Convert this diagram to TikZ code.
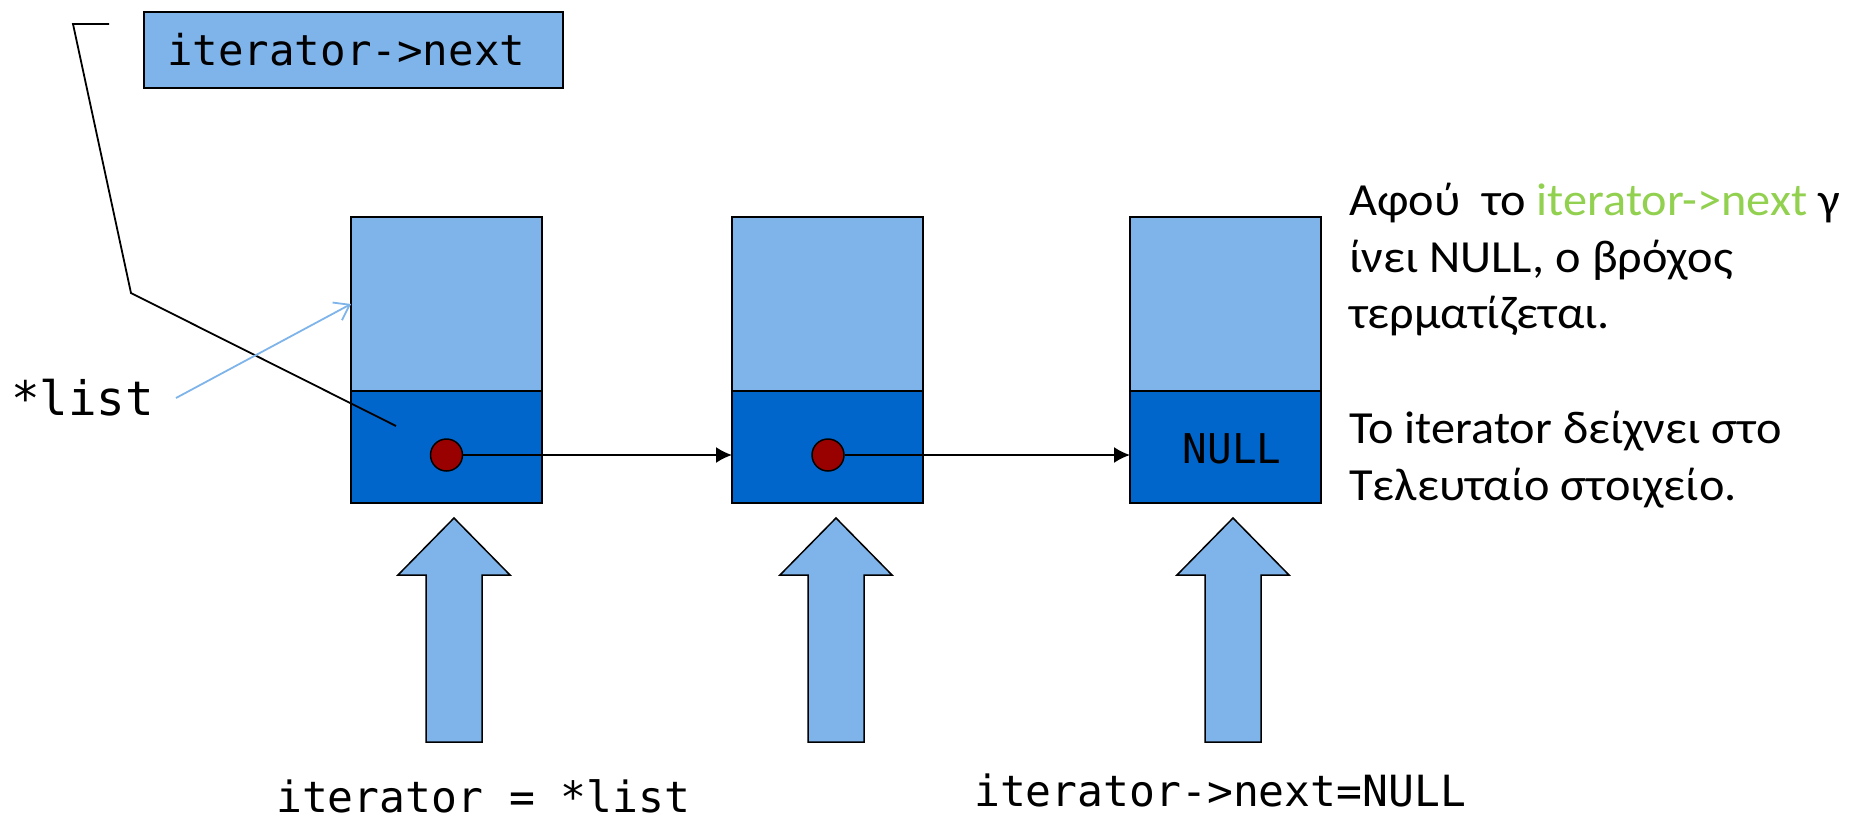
\documentclass[tikz,border=0pt]{standalone}
\usepackage{fontspec}
\setmainfont{Carlito}
\newfontfamily\greekfont[FakeStretch=1.05]{Carlito}
\newfontfamily\monofont{DejaVu Sans Mono}
\usetikzlibrary{arrows.meta,calc}
\definecolor{lightblue}{RGB}{127,180,234}
\definecolor{darkblue}{RGB}{0,102,204}
\definecolor{dotred}{RGB}{153,0,0}
\definecolor{codegreen}{RGB}{146,208,80}
\begin{document}
\begin{tikzpicture}[x=1pt,y=-1pt,
  upperbox/.style={draw=black, line width=2.5pt, fill=lightblue, minimum width=191pt, minimum height=174pt, inner sep=0pt, outer sep=0pt, anchor=north west},
  lowerbox/.style={draw=black, line width=2.5pt, fill=darkblue, minimum width=191pt, minimum height=112pt, inner sep=0pt, outer sep=0pt, anchor=north west},
  ptrdot/.style={circle, draw=black, line width=1.5pt, fill=dotred, minimum size=32pt, inner sep=0pt},
  conn/.style={line width=1.8pt, -{Latex[length=16pt,width=16pt]}},
  bigarrow/.style={draw=black, line width=1.5pt, fill=lightblue, line join=miter},
  callout/.style={line width=1.8pt},
  listarrow/.style={draw=lightblue, line width=1.8pt, -{Straight Barb[length=14pt,width=20pt]}},
  monotext/.style={font=\monofont\fontsize{43}{52}\selectfont, inner sep=0pt, anchor=base west},
  greektext/.style={font=\greekfont\fontsize{46}{57}\selectfont, inner sep=0pt, anchor=base west}
]
\useasboundingbox (0,0) rectangle (1858,820);

% top label box
\node[draw=black, line width=2pt, fill=lightblue, minimum width=419pt, minimum height=76pt, inner sep=0pt, anchor=north west,
      font=\monofont\fontsize{42.5}{50}\selectfont] (itbox) at (143,11)
      {\makebox[419pt][l]{\hspace{23pt}iterator->next}};

% list elements
\node[upperbox] (t1) at (351,217) {};
\node[lowerbox] (b1) at (351,391) {};
\node[upperbox] (t2) at (732,217) {};
\node[lowerbox] (b2) at (732,391) {};
\node[upperbox] (t3) at (1130,217) {};
\node[lowerbox] (b3) at (1130,391) {};

\node[ptrdot] (d1) at (446.5,455) {};
\node[ptrdot] (d2) at (828,455) {};
\node[font=\monofont\fontsize{41}{50}\selectfont, inner sep=0pt, anchor=base] (null) at (1232,463) {NULL};

\draw[conn] (d1.east) -- (d1.east -| b2.west);
\draw[conn] (d2.east) -- (d2.east -| b3.west);

% callout line
\coordinate (c1) at (109,24);
\coordinate (c2) at (73,24);
\coordinate (c3) at (131,293);
\coordinate (c4) at (396,426);
\draw[callout] (c1) -- (c2) -- (c3) -- (c4);

% *list label and arrow
\node[monotext, font=\monofont\fontsize{47.5}{56}\selectfont] (listlbl) at (11,415) {*list};
\coordinate (la) at (176,398);
\draw[listarrow] (la) -- (t1.west);

% big up arrows
\foreach \cx/\nm in {454/a1, 836/a2, 1233/a3} {
  \draw[bigarrow] (\cx,518) coordinate (\nm) -- ({\cx+56},575) -- ({\cx+28},575) -- ({\cx+28},742)
     -- ({\cx-28},742) -- ({\cx-28},575) -- ({\cx-56},575) -- cycle;
}

% bottom labels
\node[monotext] (lbl1) at (276,812) {iterator = *list};
\node[monotext] (lbl2) at (974,806) {iterator->next=NULL};

% explanation text
\node[greektext] (g1) at (1349,215) {Αφού\ \ το \textcolor{codegreen}{iterator->next} γ};
\node[greektext] (g2) at (1349,272) {ίνει NULL, ο βρόχος};
\node[greektext] (g3) at (1349,328) {τερματίζεται.};
\node[greektext] (g4) at (1349,443) {Το iterator δείχνει στο};
\node[greektext] (g5) at (1349,500) {Τελευταίο στοιχείο.};
\end{tikzpicture}
\end{document}
